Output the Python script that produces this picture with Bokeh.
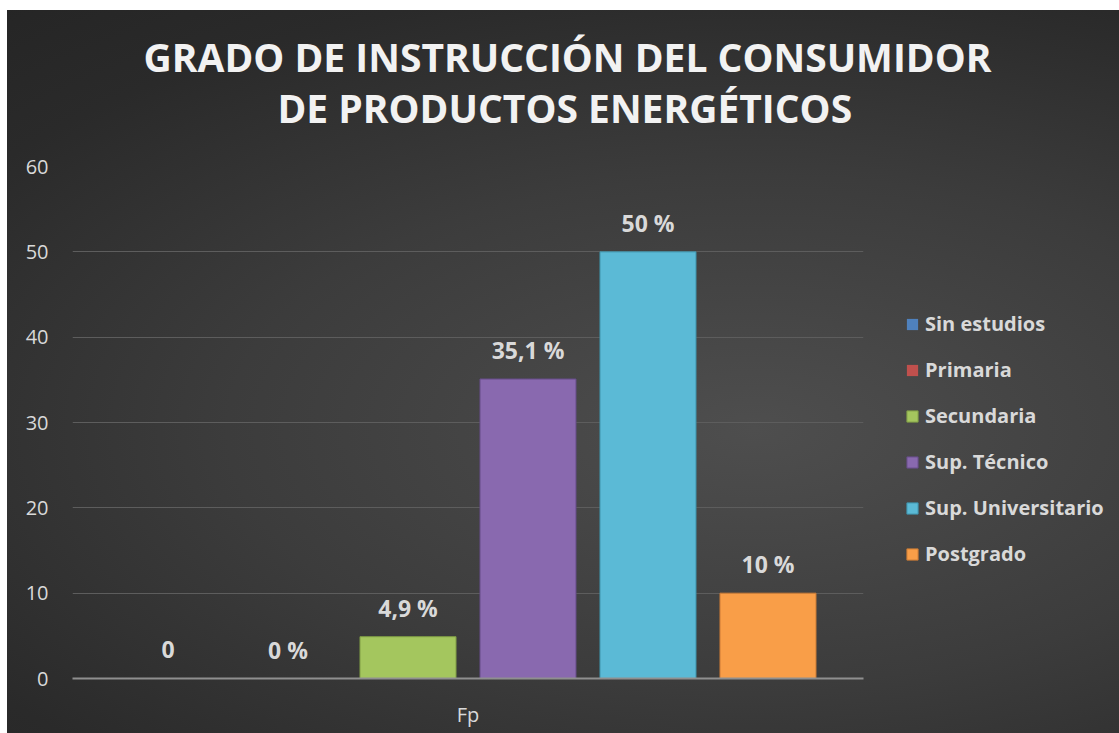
from bokeh.plotting import figure
from bokeh.models import (ColumnDataSource, FactorRange, Range1d, Title, Legend,
                          LegendItem, InlineStyleSheet)
from bokeh.transform import dodge
from bokeh.embed import file_html
from bokeh.resources import INLINE
from bokeh.core.properties import value

# ---- data ----
title_lines = ["GRADO DE INSTRUCCIÓN DEL CONSUMIDOR", "DE PRODUCTOS ENERGÉTICOS"]
group = ["Fp"]
series = ["Sin estudios", "Primaria", "Secundaria", "Sup. Técnico",
          "Sup. Universitario", "Postgrado"]
values = [0, 0, 4.9, 35.1, 50, 10]
value_labels = ["0", "0 %", "4,9 %", "35,1 %", "50 %", "10 %"]
y_ticks = [0, 10, 20, 30, 40, 50, 60]

# ---- style ----
colors = ["#4f81bd", "#c0504d", "#a4c65e", "#8969af", "#5bbad6", "#f99e48"]
edge_colors = ["#3d679a", "#9c3e3b", "#7f9c45", "#654c86", "#3e93ab", "#c97a35"]
FONT = "Open Sans"
TXT = "#d9d9d9"

css = (":host { background: radial-gradient(ellipse 72% 78% at 46% 58%, "
       "#4e4e4e 0%, #3c3c3c 45%, #2a2a2a 80%, #252525 100%); }")

p = figure(frame_width=791, frame_height=512,
           x_range=FactorRange(factors=group, range_padding=0),
           y_range=Range1d(0, 60),
           output_backend="svg", toolbar_location=None,
           min_border_left=65, min_border_right=0,
           min_border_top=156, min_border_bottom=55,
           background_fill_alpha=0, border_fill_alpha=0,
           outline_line_color=None,
           stylesheets=[InlineStyleSheet(css=css)])
p.margin = (10, 0, 0, 7)

# axes
p.yaxis.ticker = y_ticks
p.yaxis.axis_line_color = None
p.yaxis.major_tick_line_color = None
p.yaxis.minor_tick_line_color = None
p.yaxis.major_tick_out = 0
p.yaxis.major_label_standoff = 24
p.yaxis.major_label_text_font = FONT
p.yaxis.major_label_text_font_size = "20px"
p.yaxis.major_label_text_color = TXT

p.xaxis.axis_line_color = "#8f8f8f"
p.xaxis.axis_line_width = 2
p.xaxis.major_tick_line_color = None
p.xaxis.minor_tick_line_color = None
p.xaxis.major_tick_out = 0
p.xaxis.major_label_standoff = 22
p.xaxis.major_label_text_font = FONT
p.xaxis.major_label_text_font_size = "20px"
p.xaxis.major_label_text_color = TXT

p.xgrid.visible = False
p.ygrid.grid_line_color = "#5d5d5d"
p.ygrid.grid_line_width = 1

# bars + labels
n = len(series)
step = 0.1517
bar_w = 0.1214
items = []
for i, name in enumerate(series):
    off = (i - (n - 1) / 2) * step
    src = ColumnDataSource(dict(x=group, top=[values[i]], lab=[value_labels[i]]))
    r = p.vbar(x=dodge("x", off, range=p.x_range), top="top", width=bar_w,
               source=src, fill_color=colors[i],
               line_color=edge_colors[i] if values[i] > 0 else None,
               line_width=1)
    items.append(LegendItem(label=name, renderers=[r]))
    p.text(x=dodge("x", off, range=p.x_range), y="top", text="lab", source=src,
           text_align="center", text_baseline="alphabetic", y_offset=-29,
           text_font=value(FONT), text_font_style="bold",
           text_font_size="23px", text_color=TXT)

legend = Legend(items=items, location=(42, 111),
                label_text_font=FONT, label_text_font_style="bold",
                label_text_font_size="20px", label_text_color=TXT,
                glyph_width=14, glyph_height=14, label_height=20,
                spacing=19, padding=0, label_standoff=6,
                background_fill_alpha=0, border_line_alpha=0)
legend.margin = 42
p.add_layout(legend, "right")

# title: first added sits closest to the plot
for txt, off, so in zip(reversed(title_lines), [205, 71], [66, -75]):
    p.add_layout(Title(text=txt, align="left", offset=off, standoff=so,
                       text_font=FONT, text_font_style="bold",
                       text_font_size="39px", text_color="#f2f2f2"), "above")

open("out.html", "w").write(file_html(p, INLINE))
